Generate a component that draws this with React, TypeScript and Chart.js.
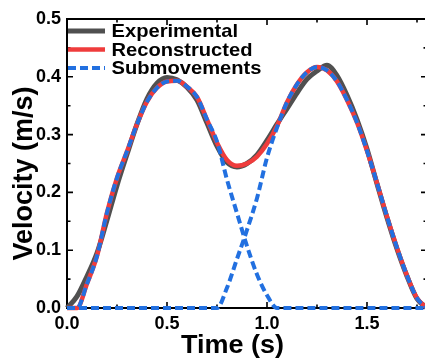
import React, { useEffect, useRef } from "react";
import { Chart, registerables } from "chart.js";

Chart.register(...registerables);

// ---- data ----
const timeS = [
  0, 0.05, 0.1, 0.15, 0.2, 0.25, 0.3, 0.35, 0.4, 0.45, 0.5, 0.55, 0.6, 0.65, 0.7, 0.75,
  0.8, 0.85, 0.9, 0.95, 1.0, 1.05, 1.1, 1.15, 1.2, 1.25, 1.3, 1.35, 1.4, 1.45, 1.5, 1.55,
  1.6, 1.65, 1.7, 1.75, 1.8,
];
const experimental = [
  0, 0.02, 0.055, 0.095, 0.152, 0.212, 0.266, 0.318, 0.362, 0.389, 0.399, 0.395, 0.382, 0.36,
  0.32, 0.28, 0.252, 0.244, 0.25, 0.265, 0.29, 0.318, 0.345, 0.372, 0.396, 0.41, 0.42,
  0.402, 0.368, 0.326, 0.275, 0.215, 0.156, 0.102, 0.055, 0.016, 0,
];
const reconstructed = [
  0, 0, 0.042, 0.09, 0.165, 0.225, 0.271, 0.318, 0.357, 0.381, 0.392, 0.393, 0.383, 0.365,
  0.326, 0.286, 0.256, 0.246, 0.25, 0.262, 0.284, 0.315, 0.356, 0.387, 0.408, 0.417, 0.411,
  0.392, 0.36, 0.321, 0.272, 0.216, 0.158, 0.104, 0.056, 0.017, 0,
];
const submovement1 = [
  0, 0, 0.042, 0.09, 0.165, 0.225, 0.271, 0.318, 0.357, 0.381, 0.392, 0.393, 0.383, 0.365,
  0.326, 0.288, 0.222, 0.164, 0.107, 0.058, 0.022, 0, 0, 0, 0, 0, 0, 0, 0, 0, 0, 0, 0, 0, 0,
  0, 0,
];
const submovement2 = [
  0, 0, 0, 0, 0, 0, 0, 0, 0, 0, 0, 0, 0, 0, 0, 0, 0.035, 0.085, 0.135, 0.19, 0.26, 0.312,
  0.356, 0.387, 0.408, 0.417, 0.411, 0.392, 0.36, 0.321, 0.272, 0.216, 0.158, 0.104, 0.056,
  0.017, 0,
];
const xTicks = [0, 0.5, 1.0, 1.5];
const xMinorTicks = [0.25, 0.75, 1.25, 1.75];
const yTicks = [0, 0.1, 0.2, 0.3, 0.4, 0.5];
const yMinorTicks = [0.05, 0.15, 0.25, 0.35, 0.45];
const legendLabels = ["Experimental", "Reconstructed", "Submovements"];
const xTitle = "Time (s)";
const yTitle = "Velocity (m/s)";

const GRAY = "#505050";
const RED = "#ef3c3c";
const BLUE = "#2270e0";
const FONT = "'Liberation Sans', Arial, sans-serif";

const pts = (vals: number[]) => timeS.map((t, i) => ({ x: t, y: vals[i] }));

const framePlugin = {
  id: "frame",
  beforeDatasetsDraw(chart: any) {
    const { ctx, chartArea: a, scales } = chart;
    const xs = scales.x;
    const ys = scales.y;
    ctx.save();
    ctx.strokeStyle = "#000";
    ctx.lineWidth = 2;
    ctx.strokeRect(a.left, a.top, a.right - a.left, a.bottom - a.top);
    ctx.lineWidth = 1.6;
    const tickX = (v: number, len: number) => {
      const px = xs.getPixelForValue(v);
      ctx.beginPath();
      ctx.moveTo(px, a.bottom);
      ctx.lineTo(px, a.bottom - len);
      ctx.moveTo(px, a.top);
      ctx.lineTo(px, a.top + len);
      ctx.stroke();
    };
    const tickY = (v: number, len: number) => {
      const py = ys.getPixelForValue(v);
      ctx.beginPath();
      ctx.moveTo(a.left, py);
      ctx.lineTo(a.left + len, py);
      ctx.moveTo(a.right, py);
      ctx.lineTo(a.right - len, py);
      ctx.stroke();
    };
    xTicks.forEach((v) => tickX(v, 6));
    xMinorTicks.forEach((v) => tickX(v, 3.5));
    yTicks.forEach((v) => tickY(v, 6));
    yMinorTicks.forEach((v) => tickY(v, 3.5));
    ctx.restore();
  },
  afterDraw(chart: any) {
    const { ctx } = chart;
    const ds = chart.data.datasets;
    ctx.save();
    // legend
    const rows = [31, 49.5, 68];
    legendLabels.forEach((lab, i) => {
      const d = ds[i];
      const y = rows[i];
      ctx.beginPath();
      ctx.strokeStyle = d.borderColor;
      ctx.lineWidth = d.borderWidth;
      ctx.setLineDash(d.borderDash || []);
      ctx.moveTo(68, y);
      ctx.lineTo(105, y);
      ctx.stroke();
      ctx.setLineDash([]);
      ctx.save();
      ctx.translate(111.5, y + 1);
      ctx.scale(1.06, 1);
      ctx.fillStyle = "#000";
      ctx.font = `bold 19px ${FONT}`;
      ctx.textBaseline = "middle";
      ctx.textAlign = "left";
      ctx.fillText(lab, 0, 0);
      ctx.restore();
    });
    // x title
    ctx.save();
    ctx.translate(232.5, 353);
    ctx.scale(1.06, 1);
    ctx.fillStyle = "#000";
    ctx.font = `bold 25.5px ${FONT}`;
    ctx.textAlign = "center";
    ctx.textBaseline = "alphabetic";
    ctx.fillText(xTitle, 0, 0);
    ctx.restore();
    // y title
    ctx.save();
    ctx.translate(32, 173.5);
    ctx.rotate(-Math.PI / 2);
    ctx.fillStyle = "#000";
    ctx.font = `bold 27px ${FONT}`;
    ctx.textAlign = "center";
    ctx.textBaseline = "alphabetic";
    ctx.fillText(yTitle, 0, 0);
    ctx.restore();
    ctx.restore();
  },
};

export default function App() {
  const ref = useRef<HTMLCanvasElement | null>(null);
  useEffect(() => {
    if (!ref.current) return;
    const common = {
      pointRadius: 0,
      fill: false,
      cubicInterpolationMode: "monotone" as const,
      clip: 6,
    };
    const chart = new Chart(ref.current, {
      type: "line",
      data: {
        datasets: [
          { ...common, label: legendLabels[0], data: pts(experimental), borderColor: GRAY, borderWidth: 5, order: 3 },
          { ...common, label: legendLabels[1], data: pts(reconstructed), borderColor: RED, borderWidth: 4.5, order: 2 },
          { ...common, label: legendLabels[2], data: pts(submovement1), borderColor: BLUE, borderWidth: 4, borderDash: [8, 4], order: 1 },
          { ...common, label: legendLabels[2], data: pts(submovement2), borderColor: BLUE, borderWidth: 4, borderDash: [8, 4], order: 1 },
        ],
      },
      options: {
        responsive: false,
        animation: false,
        layout: { padding: { top: 19, right: 1, left: 0, bottom: 0 } },
        plugins: { legend: { display: false }, tooltip: { enabled: false } },
        scales: {
          x: {
            type: "linear",
            min: 0,
            max: 1.8,
            grid: { display: false, drawTicks: false },
            border: { display: false },
            ticks: {
              color: "#000",
              font: { family: FONT, size: 18, weight: "bold" },
              padding: 5,
              maxRotation: 0,
              callback: (v: any) => Number(v).toFixed(1),
            },
            afterBuildTicks: (s: any) => {
              s.ticks = xTicks.map((v) => ({ value: v }));
            },
            afterFit: (s: any) => {
              s.height = 50;
            },
          },
          y: {
            type: "linear",
            min: 0,
            max: 0.5,
            grid: { display: false, drawTicks: false },
            border: { display: false },
            ticks: {
              color: "#000",
              font: { family: FONT, size: 18, weight: "bold" },
              padding: 6,
              callback: (v: any) => Number(v).toFixed(1),
            },
            afterBuildTicks: (s: any) => {
              s.ticks = yTicks.map((v) => ({ value: v }));
            },
            afterFit: (s: any) => {
              s.width = 67;
            },
          },
        },
      } as any,
      plugins: [framePlugin],
    });
    return () => chart.destroy();
  }, []);
  return (
    <div style={{ position: "fixed", left: 0, top: 0, width: 428, height: 358, background: "#fff" }}>
      <canvas ref={ref} width={428} height={358} />
    </div>
  );
}
